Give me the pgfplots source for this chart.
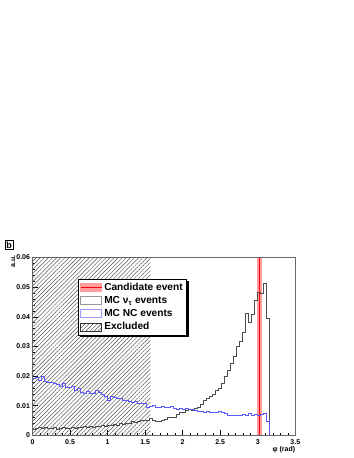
\documentclass[border=0pt]{standalone}
\usepackage{fontspec}
\setmainfont{Liberation Sans}
\usepackage{pgfplots}
\usepackage{pgfplotstable}
\pgfplotsset{compat=1.18}
\usetikzlibrary{patterns.meta,calc}

% 0.04 rad bins, left edges; last row closes the histogram
\pgfplotstableread{
x nutau nc
0.00 0.0021 0.0191
0.04 0.0023 0.0196
0.08 0.0026 0.0186
0.12 0.0024 0.0200
0.16 0.0027 0.0181
0.20 0.0025 0.0178
0.24 0.0023 0.0180
0.28 0.0026 0.0176
0.32 0.0021 0.0172
0.36 0.0024 0.0166
0.40 0.0028 0.0175
0.44 0.0022 0.0163
0.48 0.0025 0.0161
0.52 0.0027 0.0164
0.56 0.0024 0.0153
0.60 0.0028 0.0157
0.64 0.0026 0.0145
0.68 0.0029 0.0143
0.72 0.0027 0.0148
0.76 0.0030 0.0141
0.80 0.0028 0.0143
0.84 0.0032 0.0151
0.88 0.0030 0.0146
0.92 0.0034 0.0137
0.96 0.0031 0.0130
1.00 0.0034 0.0119
1.04 0.0033 0.0131
1.08 0.0037 0.0127
1.12 0.0035 0.0125
1.16 0.0040 0.0126
1.20 0.0038 0.0118
1.24 0.0040 0.0119
1.28 0.0041 0.0115
1.32 0.0047 0.0113
1.36 0.0044 0.0116
1.40 0.0046 0.0109
1.44 0.0050 0.0107
1.48 0.0049 0.0109
1.52 0.0052 0.0094
1.56 0.0057 0.0097
1.60 0.0050 0.0101
1.64 0.0046 0.0096
1.68 0.0047 0.0094
1.72 0.0049 0.0097
1.76 0.0055 0.0093
1.80 0.0060 0.0095
1.84 0.0060 0.0098
1.88 0.0062 0.0090
1.92 0.0070 0.0088
1.96 0.0076 0.0091
2.00 0.0077 0.0088
2.04 0.0083 0.0090
2.08 0.0087 0.0087
2.12 0.0085 0.0089
2.16 0.0090 0.0085
2.20 0.0094 0.0080
2.24 0.0105 0.0081
2.28 0.0117 0.0079
2.32 0.0125 0.0080
2.36 0.0130 0.0077
2.40 0.0139 0.0079
2.44 0.0153 0.0078
2.48 0.0160 0.0080
2.52 0.0175 0.0077
2.56 0.0198 0.0075
2.60 0.0218 0.0069
2.64 0.0243 0.0068
2.68 0.0268 0.0067
2.72 0.0299 0.0069
2.76 0.0316 0.0067
2.80 0.0346 0.0070
2.84 0.0411 0.0068
2.88 0.0383 0.0073
2.92 0.0410 0.0067
2.96 0.0456 0.0070
3.00 0.0484 0.0066
3.04 0.0479 0.0072
3.08 0.0512 0.0075
3.12 0.0394 0.0046
3.16 0 0
}\hist

\tikzset{hatch/.style={pattern={Lines[angle=45, distance=2.9bp, line width=0.45bp]},
                       pattern color=black!70}}

\begin{document}
\begin{tikzpicture}
\useasboundingbox (0,0) rectangle (354bp,458bp);

% panel letter
\node[draw, line width=0.7bp, inner sep=1.2bp, font=\fontsize{9}{10}\selectfont\bfseries]
  at (9bp,213bp) {b};

\begin{axis}[
    at={(32.5bp,22.7bp)}, anchor=south west,
    scale only axis,
    width=262.8bp, height=177.8bp,
    xmin=0, xmax=3.5, ymin=0, ymax=0.06,
    xtick={0,0.5,...,3.5},
    xticklabels={0,0.5,1,1.5,2,2.5,3,3.5},
    ytick={0,0.01,...,0.06},
    yticklabels={0,0.01,0.02,0.03,0.04,0.05,0.06},
    scaled y ticks=false,
    minor x tick num=4,
    minor y tick num=4,
    xtick pos=bottom, ytick pos=left,
    tick align=inside,
    major tick length=5bp, minor tick length=2.5bp,
    tick style={black, line width=0.4bp},
    axis line style={black!60, line width=0.6bp},
    ticklabel style={font=\fontsize{7}{8}\selectfont\bfseries},
    /pgf/number format/assume math mode=true,
    xticklabel style={yshift=-1bp},
    yticklabel style={xshift=1bp},
    legend cell align=left,
    legend style={
        name=leg,
        at={(0.173,0.879)}, anchor=north west,
        draw=black, line width=0.6bp, fill=white,
        font=\fontsize{10.2}{11}\selectfont\bfseries,
        row sep=0.5bp, inner sep=1.8bp,
    },
]

% excluded region
\addplot[forget plot, draw=none, hatch]
  coordinates {(0,0) (0,0.06) (1.5708,0.06) (1.5708,0)} --cycle;

% candidate event band
\addplot[forget plot, draw=none, fill=red!38]
  coordinates {(2.99,0) (2.99,0.06) (3.05,0.06) (3.05,0)} --cycle;
\addplot[forget plot, red, line width=1.5bp]
  coordinates {(3.02,0) (3.02,0.06)};

% MC histograms
\addplot[forget plot, const plot mark left, black!70, line width=0.6bp]
  table[x=x, y=nutau] {\hist};
\addplot[forget plot, const plot mark left, blue!65, line width=0.6bp]
  table[x=x, y=nc] {\hist};

\addlegendimage{legend image code/.code={
  \fill[red!38] (0bp,-4bp) rectangle (21bp,4bp);
  \draw[red, line width=1.2bp] (0bp,0bp) -- (21bp,0bp);}}
\addlegendentry{Candidate event}
\addlegendimage{legend image code/.code={
  \draw[black!40, line width=0.9bp] (0bp,-4bp) rectangle (21bp,4bp);}}
\addlegendentry{MC ν\textsubscript{τ} events}
\addlegendimage{legend image code/.code={
  \draw[blue!40, line width=0.9bp] (0bp,-4bp) rectangle (21bp,4bp);}}
\addlegendentry{MC NC events}
\addlegendimage{legend image code/.code={
  \draw[black!80, line width=0.5bp, hatch] (0bp,-4bp) rectangle (21bp,4bp);}}
\addlegendentry{Excluded}
\end{axis}

% legend drop shadow
\fill[black] ($(leg.south west)+(1.8bp,-1.8bp)$) rectangle ($(leg.south east)+(1.8bp,0bp)$);
\fill[black] ($(leg.south east)+(0bp,-1.8bp)$) rectangle ($(leg.north east)+(1.8bp,-1.8bp)$);

\node[rotate=90, anchor=south east, inner sep=0pt,
      font=\fontsize{7}{8}\selectfont\bfseries]
  at ($(current axis.north west)+(-17bp,2bp)$) {a.u.};
\node[anchor=north east, inner sep=0pt,
      font=\fontsize{7}{8}\selectfont\bfseries]
  at ($(current axis.south east)+(0bp,-11bp)$) {φ (rad)};
\end{tikzpicture}
\end{document}
